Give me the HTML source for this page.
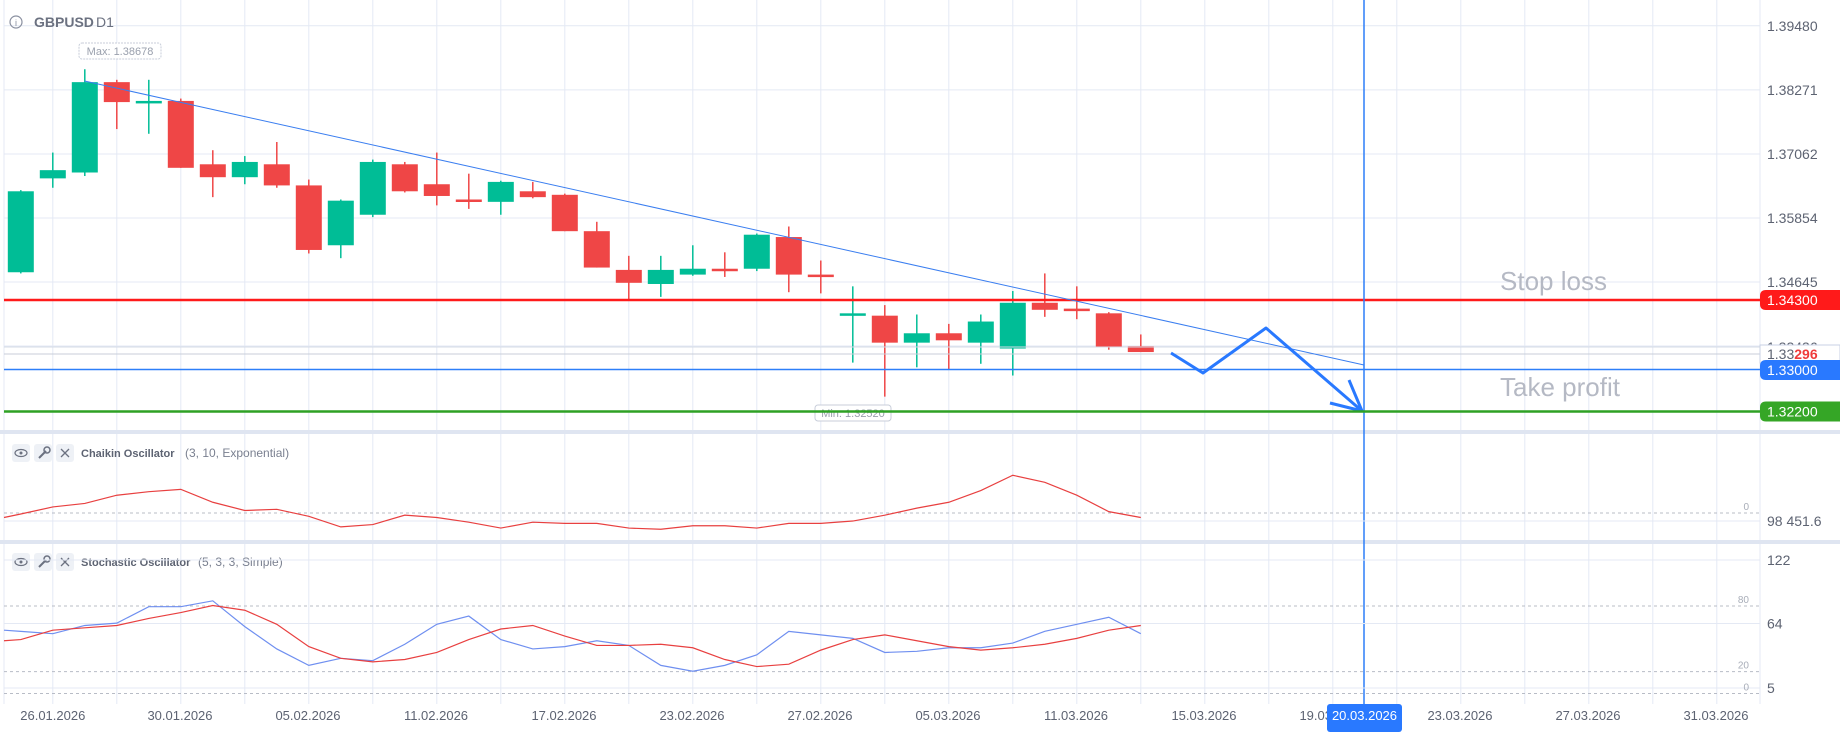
<!DOCTYPE html>
<html><head><meta charset="utf-8"><style>
html,body{margin:0;padding:0;background:#fff;}
svg{display:block;font-family:"Liberation Sans",sans-serif;}
</style></head><body>
<svg id="s" width="1840" height="732" viewBox="0 0 1840 732" xmlns="http://www.w3.org/2000/svg"></svg>
<script>
const S=1.1735;
let o='';
const grid='#e4e9f4';
for(let x=52.8-64;x<1760;x+=64){ if(x<2)continue; o+=`<line x1="${x}" y1="0" x2="${x}" y2="704" stroke="${grid}" stroke-width="1"/>`;}
const py=[25.8,89.9,154,218,282,346];
py.forEach(y=>o+=`<line x1="4" y1="${y}" x2="1760" y2="${y}" stroke="${grid}"/>`);
o+=`<line x1="4" y1="0" x2="4" y2="704" stroke="${grid}"/>`;
o+=`<line x1="1760" y1="0" x2="1760" y2="704" stroke="${grid}"/>`;
o+=`<rect x="0" y="430" width="1840" height="4" fill="#dfe5f1"/>`;
o+=`<rect x="0" y="540" width="1840" height="4" fill="#dfe5f1"/>`;
const C=[
['g',163,232,162,233],['g',145,152,130,160],['g',70,147,59,150],['r',70,87,68,110],['g',86,88,68,114],
['r',86,143,84,143],['r',140,151,128,168],['g',138,151,133,157],['r',140,158,121,160],['r',158,213,153,216],
['g',171,209,170,220],['g',138,183,136,185],['r',140,163,138,164],['r',157,167,130,175],['r',170,172,148,178],
['g',155,172,154,183],['r',163,168,155,169],['r',166,197,165,197],['r',197,228,189,228],['r',230,241,218,255],
['g',230,242,218,253],['g',229,234,209,235],['r',229,231,215,236],['g',200,229,199,231],['r',202,234,193,249],
['r',234,236,222,250],['g',267,269,244,309],['r',269,292,260,338],['g',284,292,268,313],['r',284,290,276,315],
['g',274,292,268,310],['g',258,297,248,320],['r',258,264,233,270],['r',263,265,244,272],['r',267,296,266,298],['r',295,300,285,300]];
C.forEach((c,i)=>{const x=20.8+32*i;const col=c[0]=='g'?'#00bd96':'#ef4646';
const t=c[1]*S,b=Math.max(c[2]*S,c[1]*S+2.5);
o+=`<line x1="${x}" y1="${c[3]*S}" x2="${x}" y2="${c[4]*S}" stroke="${col}" stroke-width="1.5"/>`;
o+=`<rect x="${x-13}" y="${t}" width="26" height="${b-t}" fill="${col}"/>`;});
o+=`<line x1="4" y1="347" x2="1760" y2="347" stroke="#d5dbe6"/>`;
o+=`<line x1="4" y1="354" x2="1760" y2="354" stroke="#c9ced8"/>`;
o+=`<line x1="4" y1="300" x2="1760" y2="300" stroke="#ff1a1a" stroke-width="2.5"/>`;
o+=`<line x1="4" y1="369.5" x2="1760" y2="369.5" stroke="#2d7ff9" stroke-width="1.5"/>`;
o+=`<line x1="84.5" y1="81" x2="1364" y2="365" stroke="#3a7ef0" stroke-width="1"/>`;
o+=`<polyline points="1171,353 1203,373 1266,328 1362,411" fill="none" stroke="#2979ff" stroke-width="3" stroke-linejoin="round"/>`;
o+=`<polyline points="1330,403 1362,411 1349,380" fill="none" stroke="#2979ff" stroke-width="3" stroke-linejoin="round"/>`;
o+=`<line x1="1364" y1="0" x2="1364" y2="704" stroke="#2d7ff9" stroke-width="1.5"/>`;
o+=`<text x="1500" y="290" font-size="26" fill="#b5b9c4">Stop loss</text>`;
o+=`<text x="1500" y="396" font-size="26" fill="#b5b9c4">Take profit</text>`;
o+=`<rect x="79" y="43" width="82" height="16" rx="3" fill="#fff" stroke="#c8ceda" stroke-dasharray="2,1"/>`;
o+=`<text x="120" y="55" font-size="11" fill="#9aa0ad" text-anchor="middle">Max: 1.38678</text>`;
o+=`<rect x="815" y="405" width="76" height="16" rx="3" fill="#fff" stroke="#c8ceda"/>`;
o+=`<text x="853" y="417" font-size="11" fill="#9aa0ad" text-anchor="middle">Min: 1.32520</text>`;
o+=`<line x1="4" y1="411.5" x2="1760" y2="411.5" stroke="#2ea124" stroke-width="2.5"/>`;
o+=`<circle cx="16" cy="22" r="6" fill="none" stroke="#8a90a0" stroke-width="1.2"/><text x="16" y="26" font-size="9" fill="#8a90a0" text-anchor="middle">i</text>`;
o+=`<text x="34" y="27" font-size="14" font-weight="bold" fill="#6b7180">GBPUSD</text><text x="96" y="27" font-size="14" fill="#6b7180">D1</text>`;
const lab=[['1.39480',25.8],['1.38271',89.9],['1.37062',154],['1.35854',218],['1.34645',282]];
lab.forEach(l=>o+=`<text x="1767" y="${l[1]+5}" font-size="14" fill="#5d6372">${l[0]}</text>`);
function box(y,col,txt,tc){o+=`<path d="M1766,${y-10} H1840 V${y+10} H1766 Q1760,${y+10} 1760,${y+4} V${y-4} Q1760,${y-10} 1766,${y-10}Z" fill="${col}"/><text x="1767" y="${y+5}" font-size="14" fill="${tc}">${txt}</text>`;}
box(300,'#ff1a1a','1.34300','#fff');
o+=`<text x="1767" y="352" font-size="14" fill="#5d6372">1.33436</text>`;
o+=`<rect x="1760" y="345" width="80" height="18" fill="#fff" stroke="#c9d2e4"/><text x="1767" y="359" font-size="14" fill="#5d6372">1.33<tspan fill="#ef3b3b" font-weight="bold">296</tspan></text>`;
box(370,'#2979ff','1.33000','#fff');
box(411.5,'#35a626','1.32200','#fff');
function hdr(y,name,args,w){
 [12,34,56].forEach((x,k)=>{o+=`<rect x="${x}" y="${y-9}" width="18" height="18" rx="3" fill="#eef1f6"/>`;});
 o+=`<ellipse cx="21" cy="${y}" rx="6" ry="3.5" fill="none" stroke="#6b7180" stroke-width="1.2"/><circle cx="21" cy="${y}" r="1.5" fill="#6b7180"/>`;
 o+=`<line x1="39" y1="${y+5}" x2="46" y2="${y-2}" stroke="#6b7180" stroke-width="2"/><circle cx="47" cy="${y-3}" r="3" fill="none" stroke="#6b7180" stroke-width="1.5"/>`;
 o+=`<path d="M61,${y-4} l8,8 M69,${y-4} l-8,8" stroke="#6b7180" stroke-width="1.3"/>`;
 o+=`<text x="81" y="${y+4}" font-size="11" font-weight="bold" fill="#5d6372">${name}</text><text x="${w}" y="${y+4}" font-size="12" fill="#7a8090">${args}</text>`;
}
hdr(453,'Chaikin Oscillator','(3, 10, Exponential)',185);
hdr(562,'Stochastic Oscillator','(5, 3, 3, Simple)',198);
o+=`<line x1="4" y1="521" x2="1760" y2="521" stroke="${grid}"/>`;
o+=`<line x1="4" y1="513" x2="1760" y2="513" stroke="#b8bcc6" stroke-dasharray="3,3"/>`;
o+=`<text x="1749" y="510" font-size="10" fill="#a8adb8" text-anchor="end">0</text>`;
o+=`<text x="1767" y="526" font-size="14" fill="#5d6372">98 451.6</text>`;
const ch=[438,432,429,422,419,417,428,435,434,440,449,447,439,441,445,450,445,446,446,450,451,448,448,450,446,446,444,439,433,428,418,405,411,422,436,441];
o+=`<polyline points="4,${(ch[0]+3)*S} ${ch.map((v,i)=>(20.8+32*i)+','+(v*S)).join(' ')}" fill="none" stroke="#e84040" stroke-width="1.2"/>`;
[560,623.5].forEach(y=>o+=`<line x1="4" y1="${y}" x2="1760" y2="${y}" stroke="${grid}"/>`);
o+=`<line x1="4" y1="688" x2="1760" y2="688" stroke="${grid}"/>`;
[[606,'80'],[671.6,'20'],[693.5,'0']].forEach(l=>{o+=`<line x1="4" y1="${l[0]}" x2="1760" y2="${l[0]}" stroke="#b8bcc6" stroke-dasharray="3,3"/><text x="1749" y="${l[0]-3}" font-size="10" fill="#a8adb8" text-anchor="end">${l[1]}</text>`;});
[['122',560],['64',623.5],['5',688]].forEach(l=>o+=`<text x="1767" y="${l[1]+5}" font-size="14" fill="#5d6372">${l[0]}</text>`);
const sb=[538,540,533,531,517,517,512,534,553,567,561,563,549,532,525,545,553,551,546,550,567,572,567,558,538,541,544,556,555,552,552,548,538,532,526,540];
const sr=[545,537,535,533,527,522,516,520,532,551,561,564,562,556,545,536,533,542,550,550,549,552,562,568,566,554,545,541,546,551,554,552,549,544,537,533];
o+=`<polyline points="4,${537*S} ${sb.map((v,i)=>(20.8+32*i)+','+(v*S)).join(' ')}" fill="none" stroke="#6f8ff0" stroke-width="1.2"/>`;
o+=`<polyline points="4,${546*S} ${sr.map((v,i)=>(20.8+32*i)+','+(v*S)).join(' ')}" fill="none" stroke="#e84040" stroke-width="1.2"/>`;
const d=['26.01.2026','30.01.2026','05.02.2026','11.02.2026','17.02.2026','23.02.2026','27.02.2026','05.03.2026','11.03.2026','15.03.2026','19.03.2026','23.03.2026','27.03.2026','31.03.2026'];
const dx=[52.8,180,308,436,564,692,820,948,1076,1204,1332,1460,1588,1716];
d.forEach((t,i)=>o+=`<text x="${dx[i]}" y="720" font-size="13" fill="#5d6372" text-anchor="middle">${t}</text>`);
o+=`<rect x="1327" y="704" width="75" height="28" rx="3" fill="#2979ff"/><text x="1364.5" y="720" font-size="13" fill="#fff" text-anchor="middle">20.03.2026</text>`;
document.getElementById('s').innerHTML=o;
</script>
</body></html>
